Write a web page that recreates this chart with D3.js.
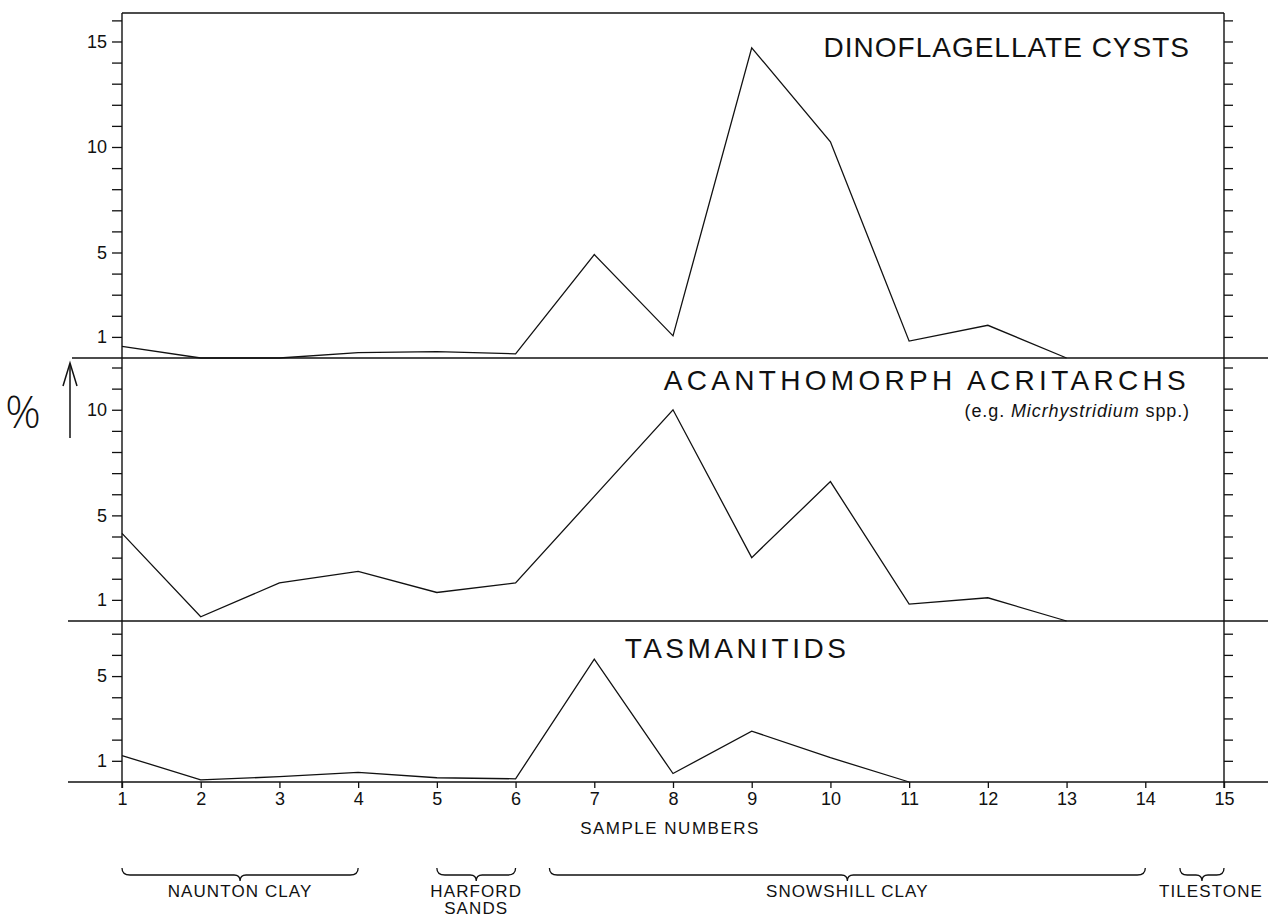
<!DOCTYPE html>
<html>
<head>
<meta charset="utf-8">
<script src="https://cdn.jsdelivr.net/npm/d3@7"></script>
<style>
  html, body { margin: 0; padding: 0; background: #fff; }
  svg { display: block; }
  text { font-family: "Liberation Sans", Arial, Helvetica, sans-serif; fill: #111; }
</style>
</head>
<body>
<svg id="chart" width="1268" height="922"></svg>
<script>
// ---------------- data ----------------
const samples = d3.range(1, 16);                 // sample numbers 1..15
const xTickLabels = samples.map(String);

const dinoSamples = d3.range(1, 14);             // 1..13
const dinoValues  = [0.55, 0.0, 0.0, 0.25, 0.3, 0.2, 4.9, 1.05, 14.7, 10.25, 0.8, 1.55, 0.0];

const acanSamples = d3.range(1, 14);             // 1..13
const acanValues  = [4.15, 0.2, 1.8, 2.35, 1.35, 1.8, 5.9, 10.0, 3.0, 6.6, 0.8, 1.1, 0.0];

const tasmSamples = d3.range(1, 12);             // 1..11
const tasmValues  = [1.25, 0.1, 0.25, 0.45, 0.2, 0.15, 5.8, 0.4, 2.4, 1.15, 0.0];

const panelNames   = ["DINOFLAGELLATE CYSTS", "ACANTHOMORPH ACRITARCHS", "TASMANITIDS"];
const panelMax     = [16.35, 12.45, 7.6];        // y-axis extent of each panel (%)
const labelledTicks = [1, 5, 10, 15];

const formations    = ["NAUNTON CLAY", "HARFORD|SANDS", "SNOWSHILL CLAY", "TILESTONE"];
const formationFrom = [1, 5, 6.43, 14.44];
const formationTo   = [4, 6, 14, 15];

// ---------------- layout ----------------
const svg = d3.select("#chart");
const W = 1268;
const xLeft = 122, xRight = 1224;
const panelBottoms = [358, 621, 782];
const panelTops    = [13, 358, 621];

const x = d3.scaleLinear().domain([1, 15]).range([xLeft, xRight]);

const ink = "#111";
const g = svg.append("g");

const seriesSamples = [dinoSamples, acanSamples, tasmSamples];
const seriesValues  = [dinoValues, acanValues, tasmValues];

panelNames.forEach((name, i) => {
  const y = d3.scaleLinear().domain([0, panelMax[i]]).range([panelBottoms[i], panelTops[i]]);
  const ticks = d3.range(1, Math.floor(panelMax[i]) + 1);

  // left axis
  const la = g.append("g").attr("transform", `translate(${xLeft},0)`)
    .call(d3.axisLeft(y).tickValues(ticks).tickSize(10).tickPadding(5)
      .tickFormat(d => labelledTicks.includes(d) ? d : ""));
  la.select(".domain").remove();
  la.selectAll("line").attr("stroke", ink).attr("stroke-width", 1.3);
  la.selectAll("text").attr("font-size", 18).attr("fill", ink)
    .style("font-family", '"Liberation Sans", Arial, sans-serif');

  // right axis
  const ra = g.append("g").attr("transform", `translate(${xRight},0)`)
    .call(d3.axisRight(y).tickValues(ticks).tickSize(9).tickFormat(""));
  ra.select(".domain").remove();
  ra.selectAll("line").attr("stroke", ink).attr("stroke-width", 1.3);

  // baseline (zero line) extending beyond the frame
  g.append("line")
    .attr("x1", i === 0 ? 72 : 68).attr("x2", W)
    .attr("y1", y(0)).attr("y2", y(0))
    .attr("stroke", ink).attr("stroke-width", 1.3);

  // data line
  const data = seriesSamples[i].map((s, k) => [s, seriesValues[i][k]]);
  g.append("path")
    .datum(data)
    .attr("fill", "none")
    .attr("stroke", ink)
    .attr("stroke-width", 1.3)
    .attr("stroke-linejoin", "miter")
    .attr("d", d3.line().x(d => x(d[0])).y(d => y(d[1])));

  // panel titles
  if (i === 0) {
    g.append("text").attr("x", 1190).attr("y", 57).attr("text-anchor", "end")
      .attr("font-size", 28).attr("letter-spacing", 1).text(name);
  } else if (i === 1) {
    g.append("text").attr("x", 1190).attr("y", 390).attr("text-anchor", "end")
      .attr("font-size", 28).attr("letter-spacing", 4.3).text(name);
    const sub = g.append("text").attr("x", 1190).attr("y", 417).attr("text-anchor", "end")
      .attr("font-size", 18).attr("letter-spacing", 0.9);
    sub.append("tspan").text("(e.g. ");
    sub.append("tspan").attr("font-style", "italic").text("Micrhystridium");
    sub.append("tspan").text(" spp.)");
  } else {
    g.append("text").attr("x", 737).attr("y", 658).attr("text-anchor", "middle")
      .attr("font-size", 28).attr("letter-spacing", 3.5).text(name);
  }
});

// top frame line
g.append("line").attr("x1", xLeft).attr("x2", xRight)
  .attr("y1", panelTops[0]).attr("y2", panelTops[0])
  .attr("stroke", ink).attr("stroke-width", 1.3);

// vertical frame lines
[xLeft, xRight].forEach(xx => {
  g.append("line").attr("x1", xx).attr("x2", xx)
    .attr("y1", panelTops[0]).attr("y2", panelBottoms[2] + 6)
    .attr("stroke", ink).attr("stroke-width", 1.4);
});

// x axis
const xa = g.append("g").attr("transform", `translate(0,${panelBottoms[2]})`)
  .call(d3.axisBottom(x).tickValues(samples).tickSize(6).tickPadding(4)
    .tickFormat((d, k) => xTickLabels[k]));
xa.select(".domain").remove();
xa.selectAll("line").attr("stroke", ink).attr("stroke-width", 1.3);
xa.selectAll("text").attr("font-size", 18).attr("fill", ink)
  .style("font-family", '"Liberation Sans", Arial, sans-serif');

g.append("text").attr("x", 670).attr("y", 834).attr("text-anchor", "middle")
  .attr("font-size", 17).attr("letter-spacing", 1.5).text("SAMPLE NUMBERS");

// y axis label: % and arrow
g.append("text").attr("x", 23).attr("y", 428).attr("text-anchor", "middle")
  .attr("font-size", 44).attr("font-weight", 200)
  .style("font-family", '"Open Sans", "Noto Sans", sans-serif')
  .text("%");
g.append("line").attr("x1", 70).attr("x2", 70).attr("y1", 438).attr("y2", 364)
  .attr("stroke", ink).attr("stroke-width", 1.5);
g.append("path").attr("d", "M63,386 L70,363 L77,386")
  .attr("fill", "none").attr("stroke", ink).attr("stroke-width", 1.5);

// formation braces
const braceTop = 868, braceMid = 875, braceTip = 881;
formations.forEach((f, i) => {
  const x1 = x(formationFrom[i]), x2 = x(formationTo[i]);
  const xm = (x1 + x2) / 2;
  const r = Math.min(8, (x2 - x1) / 6);
  const p = d3.path();
  p.moveTo(x1, braceTop);
  p.quadraticCurveTo(x1, braceMid, x1 + r, braceMid);
  p.lineTo(xm - 6, braceMid);
  p.quadraticCurveTo(xm, braceMid, xm, braceTip);
  p.quadraticCurveTo(xm, braceMid, xm + 6, braceMid);
  p.lineTo(x2 - r, braceMid);
  p.quadraticCurveTo(x2, braceMid, x2, braceTop);
  g.append("path").attr("d", p.toString()).attr("fill", "none")
    .attr("stroke", ink).attr("stroke-width", 1.3);

  const lines = f.split("|");
  const tx = i === 3 ? xm + 9 : xm;
  lines.forEach((ln, j) => {
    g.append("text").attr("x", tx).attr("y", 897 + j * 17).attr("text-anchor", "middle")
      .attr("font-size", 17).attr("letter-spacing", 1.1).text(ln);
  });
});
</script>
</body>
</html>
